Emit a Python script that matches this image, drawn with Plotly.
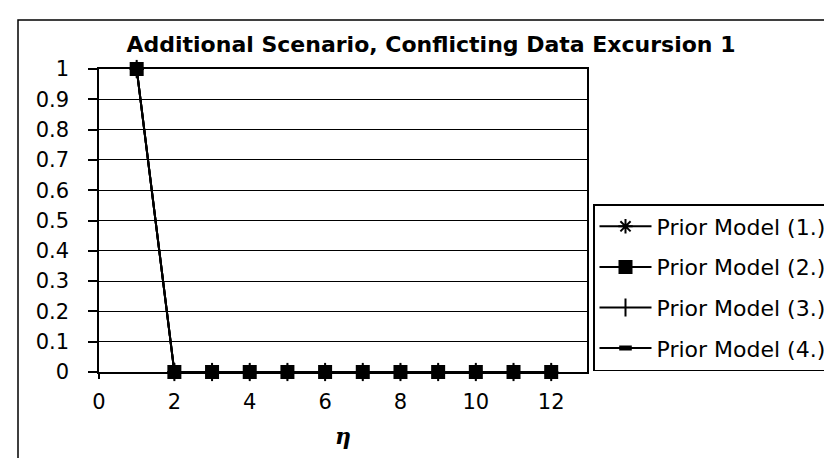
import plotly.graph_objects as go

# ---- data ----
eta = [1, 2, 3, 4, 5, 6, 7, 8, 9, 10, 11, 12]
prior_model_1 = [1, 0, 0, 0, 0, 0, 0, 0, 0, 0, 0, 0]
prior_model_2 = [1, 0, 0, 0, 0, 0, 0, 0, 0, 0, 0, 0]
prior_model_3 = [1, 0, 0, 0, 0, 0, 0, 0, 0, 0, 0, 0]
prior_model_4 = [1, 0, 0, 0, 0, 0, 0, 0, 0, 0, 0, 0]
series_names = ["Prior Model (1.)", "Prior Model (2.)", "Prior Model (3.)", "Prior Model (4.)"]
x_tick_vals = [0, 2, 4, 6, 8, 10, 12]
y_tick_vals = [0, 0.1, 0.2, 0.3, 0.4, 0.5, 0.6, 0.7, 0.8, 0.9, 1]
y_tick_text = ["0", "0.1", "0.2", "0.3", "0.4", "0.5", "0.6", "0.7", "0.8", "0.9", "1"]
title_text = "Additional Scenario, Conflicting Data Excursion 1"

W, H = 832, 458
L, R, T, B = 91, 253, 61, 94
PW, PH = W - L - R, H - T - B

def px_x(px):
    return (px - L) / PW

def px_y(py):
    return (H - B - py) / PH

fig = go.Figure()

styles = [
    dict(symbol="asterisk-open", size=12, line=dict(color="black", width=2)),
    dict(symbol="square", size=14, line=dict(color="black", width=0)),
    dict(symbol="line-ns-open", size=13, line=dict(color="black", width=2)),
    dict(symbol="line-ew-open", size=9, line=dict(color="black", width=5)),
]
series = [prior_model_1, prior_model_2, prior_model_3, prior_model_4]
for i, (name, ys, mk) in enumerate(zip(series_names, series, styles)):
    fig.add_trace(go.Scatter(
        x=eta, y=ys, name=name, mode="lines+markers",
        line=dict(color="black", width=2),
        marker=dict(color="black", **mk),
        legendgroup=f"g{i}", cliponaxis=False,
    ))

tick_font = dict(family="DejaVu Sans", size=21, color="black")

fig.update_layout(
    width=W, height=H,
    margin=dict(l=L, r=R, t=T, b=B, autoexpand=False),
    paper_bgcolor="white", plot_bgcolor="white",
    font=dict(family="DejaVu Sans", color="black", size=22),
    title=dict(text=title_text, x=423 / W, xref="container", xanchor="center",
               y=1 - 36 / H, yref="container", yanchor="middle",
               font=dict(family="DejaVu Sans", size=22, color="black", weight="bold")),
    xaxis=dict(range=[0, 12.95], tickmode="array", tickvals=x_tick_vals,
               ticks="outside", ticklen=5, tickwidth=1.5, tickcolor="black",
               showline=True, linecolor="black", linewidth=1.5, mirror=True,
               showgrid=False, zeroline=False, ticklabelstandoff=5,
               tickfont=tick_font,
               title=dict(text="<b><i>η</i></b>", standoff=16,
                          font=dict(size=22, family="DejaVu Serif"))),
    yaxis=dict(range=[0, 1], tickmode="array", tickvals=y_tick_vals, ticktext=y_tick_text,
               ticks="outside", ticklen=9, tickwidth=1.5, tickcolor="black",
               showline=True, linecolor="black", linewidth=1.5, mirror=True,
               showgrid=True, gridcolor="black", gridwidth=1,
               zeroline=False, ticklabelstandoff=15, tickfont=tick_font),
    legend=dict(x=px_x(585), y=px_y(196), xanchor="left", yanchor="top",
                xref="paper", yref="paper",
                bgcolor="white", bordercolor="black", borderwidth=1.5,
                font=dict(family="DejaVu Sans", size=22, color="black"),
                tracegroupgap=9, itemwidth=52, traceorder="grouped"),
    shapes=[dict(type="rect", xref="paper", yref="paper",
                 x0=px_x(10), x1=px_x(845), y0=px_y(475), y1=px_y(12),
                 line=dict(color="black", width=1.5), layer="below")],
    showlegend=True,
)

fig.write_html("out.html")
